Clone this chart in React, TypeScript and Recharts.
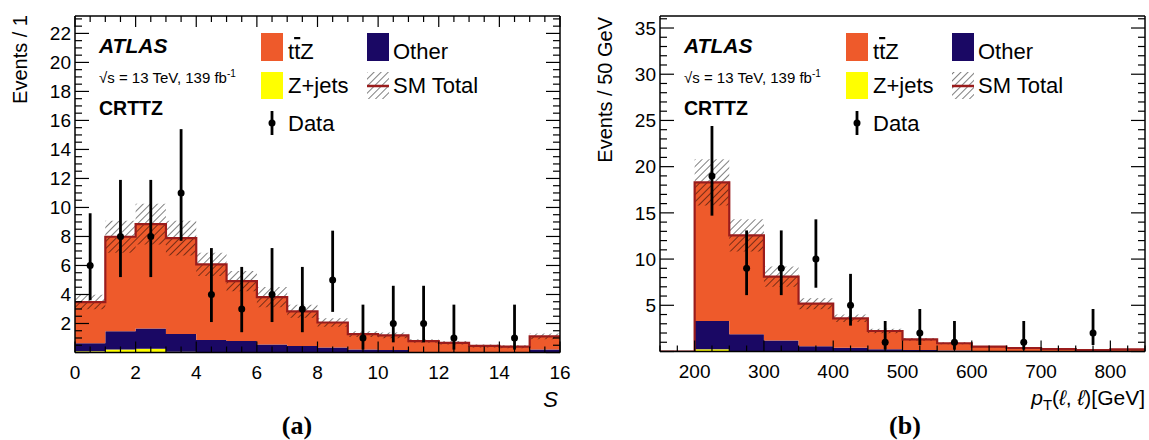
import { ComposedChart, Area, Line, Scatter, ErrorBar, XAxis, YAxis } from 'recharts';

// (a) S distribution, bins of width 1 (low edges)
const S_BINS = [0, 1, 2, 3, 4, 5, 6, 7, 8, 9, 10, 11, 12, 13, 14, 15];
const S_TTZ = [2.85, 6.51, 7.19, 6.62, 5.22, 4.13, 3.26, 2.39, 1.72, 1.07, 1.0, 0.76, 0.64, 0.42, 0.37, 0.91];
const S_OTHER = [0.55, 1.27, 1.4, 1.22, 0.84, 0.77, 0.55, 0.44, 0.35, 0.2, 0.18, 0.03, 0.03, 0.03, 0.03, 0.2];
const S_ZJETS = [0.08, 0.2, 0.26, 0.05, 0.02, 0.02, 0.01, 0.01, 0, 0, 0, 0, 0, 0, 0, 0];
const S_UNC = [0.5, 1.1, 1.4, 1.2, 0.8, 0.7, 0.7, 0.45, 0.3, 0.2, 0.2, 0.12, 0.12, 0.1, 0.1, 0.2];
const S_DATA = [6, 8, 8, 11, 4, 3, 4, 3, 5, 1, 2, 2, 1, null, 1, null];
const S_ERR_LO = [2.4, 2.8, 2.8, 3.3, 1.9, 1.6, 1.9, 1.6, 2.2, 0.8, 1.3, 1.3, 0.8, null, 0.8, null];
const S_ERR_HI = [3.6, 3.9, 3.9, 4.4, 3.2, 2.9, 3.2, 2.9, 3.4, 2.3, 2.6, 2.6, 2.3, null, 2.3, null];
const S_XTICKS = [0, 2, 4, 6, 8, 10, 12, 14, 16];
const S_YTICKS = [2, 4, 6, 8, 10, 12, 14, 16, 18, 20, 22];

// (b) pT(l,l), bins of 50 GeV (low edges)
const PT_BINS = [150, 200, 250, 300, 350, 400, 450, 500, 550, 600, 650, 700, 750, 800];
const PT_TTZ = [0, 15.0, 10.71, 6.9, 4.61, 3.18, 1.98, 1.17, 0.79, 0.46, 0.33, 0.23, 0.13, 0.2];
const PT_OTHER = [0, 3.06, 1.81, 1.18, 0.56, 0.41, 0.24, 0.15, 0.1, 0.06, 0.05, 0.04, 0.03, 0.04];
const PT_ZJETS = [0, 0.24, 0.05, 0.02, 0, 0, 0, 0, 0, 0, 0, 0, 0, 0];
const PT_UNC = [0, 2.5, 1.75, 1.1, 0.6, 0.4, 0.25, 0.15, 0.1, 0.07, 0.05, 0.04, 0.03, 0.04];
const PT_DATA = [null, 19, 9, 9, 10, 5, 1, 2, 1, null, 1, null, 2, null];
const PT_ERR_LO = [null, 4.3, 2.9, 2.9, 3.1, 2.2, 0.8, 1.3, 0.8, null, 0.8, null, 1.3, null];
const PT_ERR_HI = [null, 5.4, 4.1, 4.1, 4.3, 3.4, 2.3, 2.6, 2.3, null, 2.3, null, 2.6, null];
const PT_XTICKS = [200, 300, 400, 500, 600, 700, 800];
const PT_YTICKS = [5, 10, 15, 20, 25, 30, 35];

const COLORS = {
  ttz: '#ee5a2b',
  other: '#1a0864',
  zjets: '#ffff00',
  total: '#9a1c1c',
};

const FONT = "'Liberation Sans', Arial, Helvetica, sans-serif";
const LABEL_GAP_X = 12; // gap between frame and x tick labels
const LABEL_GAP_Y = 4; // gap between frame and y tick labels

// tick positions for the frame ticks
function steps(from: number, to: number, step: number) {
  const out: number[] = [];
  for (let v = from; v <= to + 1e-9; v += step) out.push(Math.round(v * 1000) / 1000);
  return out;
}

type Side = 'bottom' | 'top' | 'left' | 'right';

// ROOT-like ticks: drawn inward from the frame, longer on major values
function frameTick(side: Side, major: number, labels: number[], lenMajor: number, lenMinor: number) {
  return (props: any) => {
    const { x, y, payload } = props;
    const v = payload.value as number;
    const isMajor = Math.abs(v / major - Math.round(v / major)) < 1e-6;
    const len = isMajor ? lenMajor : lenMinor;
    const showLabel = labels.includes(v);
    if (side === 'bottom') {
      const y0 = y - LABEL_GAP_X;
      return (
        <g>
          <line x1={x} x2={x} y1={y0} y2={y0 - len} stroke="#000" strokeWidth={1.2} />
          {showLabel && (
            <text x={x} y={y} dy="0.75em" textAnchor="middle" fontSize={19} fontFamily={FONT} fill="#000">
              {v}
            </text>
          )}
        </g>
      );
    }
    if (side === 'left') {
      const x0 = x + LABEL_GAP_Y;
      return (
        <g>
          <line x1={x0} x2={x0 + len} y1={y} y2={y} stroke="#000" strokeWidth={1.2} />
          {showLabel && (
            <text x={x} y={y} dy="0.36em" textAnchor="end" fontSize={19} fontFamily={FONT} fill="#000">
              {v}
            </text>
          )}
        </g>
      );
    }
    if (side === 'top') {
      return <line x1={x} x2={x} y1={y} y2={y + len} stroke="#000" strokeWidth={1.2} />;
    }
    return <line x1={x} x2={x - len} y1={y} y2={y} stroke="#000" strokeWidth={1.2} />;
  };
}

type PanelProps = {
  left: number;
  width: number;
  marginRight: number;
  marginBottom: number;
  bins: number[];
  binWidth: number;
  xDomain: [number, number];
  yDomain: [number, number];
  ttz: number[];
  other: number[];
  zjets: number[];
  unc: number[];
  data: (number | null)[];
  errLo: (number | null)[];
  errHi: (number | null)[];
  xTicks: number[];
  xMajor: number;
  xMinor: number;
  yTicks: number[];
  yMajor: number;
  yMinor: number;
};

function HistPanel(p: PanelProps) {
  const rows = p.bins.map((b, i) => {
    const total = p.ttz[i] + p.other[i] + p.zjets[i];
    return {
      x: b,
      zjets: p.zjets[i],
      other: p.other[i],
      ttz: p.ttz[i],
      total,
      band: [total - p.unc[i], total + p.unc[i]],
    };
  });
  // close the last bin at the right edge
  rows.push({ ...rows[rows.length - 1], x: p.xDomain[1] });

  const points = p.bins
    .map((b, i) =>
      p.data[i] == null ? null : { x: b + p.binWidth / 2, y: p.data[i], err: [p.errLo[i], p.errHi[i]] }
    )
    .filter(Boolean);

  const xAll = steps(p.xDomain[0], p.xDomain[1], p.xMinor);
  const yAll = steps(0, p.yDomain[1], p.yMinor);
  const frame = { stroke: '#000', strokeWidth: 1.5 };
  const xMajorFrom = (v: number) => v - p.xDomain[0];

  return (
    <div style={{ position: 'absolute', left: p.left, top: 0 }}>
      <ComposedChart
        width={p.width}
        height={440}
        data={rows}
        margin={{ top: 15, right: p.marginRight, bottom: p.marginBottom, left: 0 }}
      >
        <XAxis
          xAxisId="x"
          dataKey="x"
          type="number"
          domain={p.xDomain}
          allowDataOverflow
          ticks={xAll}
          interval={0}
          height={30}
          tickLine={false}
          axisLine={frame}
          tickSize={0}
          tickMargin={LABEL_GAP_X}
          tick={frameTick('bottom', p.xMajor, p.xTicks, 11, 6)}
        />
        <XAxis
          xAxisId="top"
          type="number"
          orientation="top"
          domain={p.xDomain}
          allowDataOverflow
          ticks={xAll}
          interval={0}
          height={1}
          tickLine={false}
          axisLine={frame}
          tickSize={0}
          tickMargin={0}
          tick={frameTick('top', p.xMajor, [], 11, 6)}
        />
        <YAxis
          yAxisId="y"
          type="number"
          domain={p.yDomain}
          allowDataOverflow
          ticks={yAll}
          interval={0}
          width={75}
          tickLine={false}
          axisLine={frame}
          tickSize={0}
          tickMargin={LABEL_GAP_Y}
          tick={frameTick('left', p.yMajor, p.yTicks, 14, 7)}
        />
        <YAxis
          yAxisId="right"
          type="number"
          orientation="right"
          domain={p.yDomain}
          allowDataOverflow
          ticks={yAll}
          interval={0}
          width={1}
          tickLine={false}
          axisLine={frame}
          tickSize={0}
          tickMargin={0}
          tick={frameTick('right', p.yMajor, [], 14, 7)}
        />

        <Area xAxisId="x" yAxisId="y" dataKey="zjets" stackId="s" type="stepAfter" fill={COLORS.zjets} fillOpacity={1} stroke="none" isAnimationActive={false} />
        <Area xAxisId="x" yAxisId="y" dataKey="other" stackId="s" type="stepAfter" fill={COLORS.other} fillOpacity={1} stroke="none" isAnimationActive={false} />
        <Area xAxisId="x" yAxisId="y" dataKey="ttz" stackId="s" type="stepAfter" fill={COLORS.ttz} fillOpacity={1} stroke="none" isAnimationActive={false} />
        <Area xAxisId="x" yAxisId="y" dataKey="band" type="stepAfter" fill="url(#hatch)" fillOpacity={1} stroke="none" isAnimationActive={false} />
        <Line xAxisId="x" yAxisId="y" dataKey="total" type="stepAfter" stroke={COLORS.total} strokeWidth={2.2} dot={false} activeDot={false} isAnimationActive={false} />
        <Scatter
          xAxisId="x"
          yAxisId="y"
          data={points}
          dataKey="y"
          isAnimationActive={false}
          shape={(s: any) => <circle cx={s.cx} cy={s.cy} r={3.5} fill="#000" />}
        >
          <ErrorBar dataKey="err" direction="y" width={0} stroke="#000" strokeWidth={2.8} />
        </Scatter>
      </ComposedChart>
    </div>
  );
}

function Labels({ ox }: { ox: number }) {
  return (
    <g fontFamily={FONT} fill="#000">
      <text x={ox + 99} y={53} fontSize={21} fontWeight="bold" fontStyle="italic">ATLAS</text>
      <text x={ox + 99} y={83} fontSize={15}>
        √s = 13 TeV, 139 fb<tspan fontSize={10} dy={-6}>-1</tspan>
      </text>
      <text x={ox + 99} y={115} fontSize={19.5} fontWeight="bold">CRTTZ</text>

      <rect x={ox + 261} y={33} width={22} height={28} fill={COLORS.ttz} />
      <text x={ox + 288} y={59} fontSize={22}>
        t<tspan textDecoration="overline">t</tspan>Z
      </text>
      <rect x={ox + 367} y={33} width={22} height={28} fill={COLORS.other} />
      <text x={ox + 393} y={59} fontSize={22}>Other</text>

      <rect x={ox + 261} y={72} width={22} height={27} fill={COLORS.zjets} />
      <text x={ox + 288} y={93} fontSize={22}>Z+jets</text>
      <rect x={ox + 367} y={72} width={22} height={27} fill="url(#hatch)" />
      <line x1={ox + 367} x2={ox + 389} y1={86} y2={86} stroke={COLORS.total} strokeWidth={2.5} />
      <text x={ox + 393} y={93} fontSize={22}>SM Total</text>

      <line x1={ox + 272} x2={ox + 272} y1={111} y2={135} stroke="#000" strokeWidth={2.8} />
      <circle cx={ox + 272} cy={123} r={3.5} fill="#000" />
      <text x={ox + 288} y={131} fontSize={22}>Data</text>
    </g>
  );
}

export default function App() {
  return (
    <div style={{ position: 'absolute', left: 0, top: 0, width: 1149, height: 440, background: '#fff', overflow: 'hidden' }}>
      <svg width={0} height={0} style={{ position: 'absolute' }}>
        <defs>
          <pattern id="hatch" width={5} height={5} patternUnits="userSpaceOnUse" patternTransform="rotate(45)">
            <line x1={0} y1={0} x2={0} y2={5} stroke="#000" strokeWidth={1} />
          </pattern>
        </defs>
      </svg>

      <HistPanel
        left={0}
        width={580}
        marginRight={19}
        marginBottom={57.5}
        bins={S_BINS}
        binWidth={1}
        xDomain={[0, 16]}
        yDomain={[0, 23.2]}
        ttz={S_TTZ}
        other={S_OTHER}
        zjets={S_ZJETS}
        unc={S_UNC}
        data={S_DATA}
        errLo={S_ERR_LO}
        errHi={S_ERR_HI}
        xTicks={S_XTICKS}
        xMajor={2}
        xMinor={0.5}
        yTicks={S_YTICKS}
        yMajor={2}
        yMinor={0.5}
      />
      <HistPanel
        left={585}
        width={564}
        marginRight={3}
        marginBottom={58.5}
        bins={PT_BINS}
        binWidth={50}
        xDomain={[150, 850]}
        yDomain={[0, 36.3]}
        ttz={PT_TTZ}
        other={PT_OTHER}
        zjets={PT_ZJETS}
        unc={PT_UNC}
        data={PT_DATA}
        errLo={PT_ERR_LO}
        errHi={PT_ERR_HI}
        xTicks={PT_XTICKS}
        xMajor={100}
        xMinor={25}
        yTicks={PT_YTICKS}
        yMajor={5}
        yMinor={1}
      />

      <svg width={1149} height={440} style={{ position: 'absolute', left: 0, top: 0, pointerEvents: 'none' }}>
        <Labels ox={0} />
        <Labels ox={585} />
        <g fontFamily={FONT} fill="#000">
          <text transform="translate(27,15) rotate(-90)" textAnchor="end" fontSize={20}>Events / 1</text>
          <text transform="translate(612,17) rotate(-90)" textAnchor="end" fontSize={20}>Events / 50 GeV</text>
          <text x={558} y={407} textAnchor="end" fontSize={22} fontStyle="italic">S</text>
          <text x={1145} y={405} textAnchor="end" fontSize={21}>
            <tspan fontStyle="italic">p</tspan>
            <tspan fontSize={15} dy={5}>T</tspan>
            <tspan dy={-5}>(</tspan>
            <tspan fontStyle="italic">ℓ</tspan>
            <tspan>, </tspan>
            <tspan fontStyle="italic">ℓ</tspan>
            <tspan>)[GeV]</tspan>
          </text>
        </g>
        <g fontFamily="'Liberation Serif', 'Times New Roman', serif" fontWeight="bold" fontSize={26} textAnchor="middle" fill="#000">
          <text x={297} y={434}>(a)</text>
          <text x={905} y={434}>(b)</text>
        </g>
      </svg>
    </div>
  );
}
